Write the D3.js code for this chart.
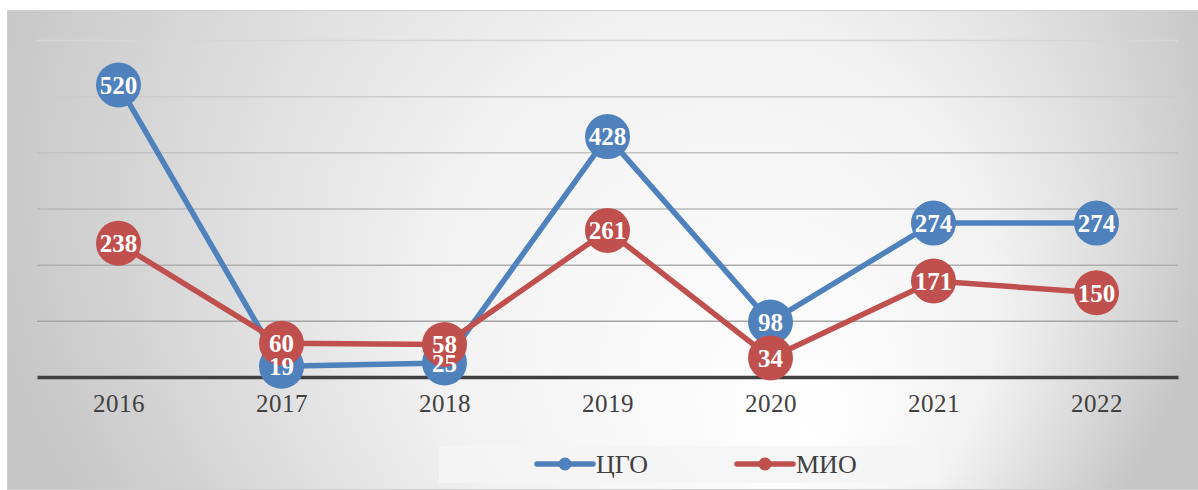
<!DOCTYPE html>
<html>
<head>
<meta charset="utf-8">
<script src="https://cdn.jsdelivr.net/npm/d3@7"></script>
<style>
  html, body { margin: 0; padding: 0; background: #fff; }
  svg { display: block; }
</style>
</head>
<body>
<div id="chart"></div>
<script>
// chart data
const years = ["2016", "2017", "2018", "2019", "2020", "2021", "2022"];
const cgoValues = [520, 19, 25, 428, 98, 274, 274];
const mioValues = [238, 60, 58, 261, 34, 171, 150];
const yTicks = [0, 100, 200, 300, 400, 500, 600];
const seriesNames = ["ЦГО", "МИО"];

const W = 1198, H = 490;
const plot = { left: 37, right: 1178, top: 40, bottom: 377 };
const colors = { "ЦГО": "#4f81bd", "МИО": "#c0504d" };
const font = "'Liberation Serif', 'DejaVu Serif', serif";

const series = [
    { name: seriesNames[0], values: cgoValues },
    { name: seriesNames[1], values: mioValues }
];

const svg = d3.select('#chart').append('svg')
    .attr('width', W)
    .attr('height', H);

// background gradient panel
const defs = svg.append('defs');
const grad = defs.append('radialGradient')
    .attr('id', 'bg')
    .attr('gradientUnits', 'userSpaceOnUse')
    .attr('cx', 600).attr('cy', 150).attr('r', 625)
    .attr('fx', 810).attr('fy', 440);
grad.append('stop').attr('offset', '0').attr('stop-color', '#ffffff');
grad.append('stop').attr('offset', '0.45').attr('stop-color', '#f2f2f2');
grad.append('stop').attr('offset', '1').attr('stop-color', '#c6c6c6');

svg.append('rect')
    .attr('x', 7.5).attr('y', 10.5)
    .attr('width', W).attr('height', H - 11)
    .attr('fill', 'url(#bg)')
    .attr('stroke', '#cfcfcf')
    .attr('stroke-width', 1);

// scales
const x = d3.scalePoint()
    .domain(years)
    .range([plot.left, plot.right])
    .padding(0.5);

const y = d3.scaleLinear()
    .domain([0, 600])
    .range([plot.bottom, plot.top]);

// gridlines
const gridColor = d3.scaleLinear().domain([600, 0]).range(['#d6d6d6', '#9a9a9a']);
const grid = svg.append('g')
    .attr('transform', `translate(${plot.left},0)`)
    .call(d3.axisLeft(y).tickValues(yTicks.filter(d => d > 0)).tickSize(-(plot.right - plot.left)).tickFormat(''));
grid.select('.domain').remove();
grid.selectAll('.tick line')
    .attr('stroke', d => gridColor(d))
    .attr('stroke-width', 1.5);

// x axis
const xAxis = svg.append('g')
    .attr('transform', `translate(0,${plot.bottom})`)
    .call(d3.axisBottom(x).tickSize(0).tickSizeOuter(0).tickPadding(17));
xAxis.select('.domain')
    .attr('stroke', '#404040')
    .attr('stroke-width', 3.5);
xAxis.selectAll('text')
    .attr('font-family', font)
    .attr('font-size', 25)
    .attr('letter-spacing', 0.5)
    .attr('fill', '#404040');

// lines
const line = d3.line()
    .x((d, i) => x(years[i]))
    .y(d => y(d));

svg.selectAll('.series-line')
    .data(series)
    .enter().append('path')
    .attr('class', 'series-line')
    .attr('d', d => line(d.values))
    .attr('fill', 'none')
    .attr('stroke', d => colors[d.name])
    .attr('stroke-width', 5.5)
    .attr('stroke-linejoin', 'round')
    .attr('stroke-linecap', 'round');

// markers
series.forEach(s => {
    svg.append('g').selectAll('circle')
        .data(s.values)
        .enter().append('circle')
        .attr('cx', (d, i) => x(years[i]))
        .attr('cy', d => y(d))
        .attr('r', 22.5)
        .attr('fill', colors[s.name]);
});

// data labels on top
series.forEach(s => {
    svg.append('g').selectAll('text')
        .data(s.values)
        .enter().append('text')
        .attr('x', (d, i) => x(years[i]))
        .attr('y', d => y(d))
        .attr('dy', '0.35em')
        .attr('text-anchor', 'middle')
        .attr('font-family', font)
        .attr('font-weight', 'bold')
        .attr('font-size', 25)
        .attr('fill', '#ffffff')
        .text(d => d);
});

// legend
const legend = svg.append('g');
legend.append('rect')
    .attr('x', 439).attr('y', 446)
    .attr('width', 501).attr('height', 37)
    .attr('fill', '#f4f4f4')
    .attr('fill-opacity', 0.85);

const legendX = d3.scaleOrdinal().domain(seriesNames).range([537, 737]);
const items = legend.selectAll('.item')
    .data(seriesNames)
    .enter().append('g')
    .attr('class', 'item')
    .attr('transform', d => `translate(${legendX(d)},464)`);
items.append('line')
    .attr('x1', 0).attr('x2', 56)
    .attr('stroke', d => colors[d])
    .attr('stroke-width', 5.5)
    .attr('stroke-linecap', 'round');
items.append('circle')
    .attr('cx', 28).attr('r', 6.5)
    .attr('fill', d => colors[d]);
items.append('text')
    .attr('x', 59)
    .attr('dy', '0.35em')
    .attr('font-family', font)
    .attr('font-size', 26)
    .attr('fill', '#404040')
    .text(d => d);
</script>
</body>
</html>
